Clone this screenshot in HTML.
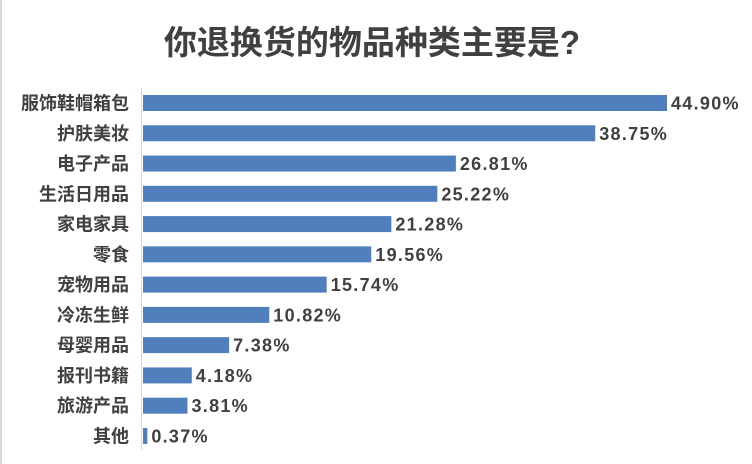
<!DOCTYPE html>
<html><head><meta charset="utf-8"><style>
body{margin:0;background:#fff;}
#c{position:relative;width:752px;height:464px;background:#fff;border-left:2px solid #d9d9d9;box-sizing:border-box;font-family:"Liberation Sans","Noto Sans CJK SC",sans-serif;overflow:hidden}
.t{position:absolute;left:0;width:740px;top:16px;text-align:center;font-size:33px;font-weight:bold;color:#404040}
</style></head><body>
<div id="c">
<div class="t">你退换货的物品种类主要是?</div>
<svg id="s" width="752" height="464" style="position:absolute;left:-2px;top:0"></svg>
</div>
<script>
const categories=["服饰鞋帽箱包","护肤美妆","电子产品","生活日用品","家电家具","零食","宠物用品","冷冻生鲜","母婴用品","报刊书籍","旅游产品","其他"];
const values=[44.90,38.75,26.81,25.22,21.28,19.56,15.74,10.82,7.38,4.18,3.81,0.37];
const labels=["44.90%","38.75%","26.81%","25.22%","21.28%","19.56%","15.74%","10.82%","7.38%","4.18%","3.81%","0.37%"];
const s=document.getElementById('s');const NS="http://www.w3.org/2000/svg";
const x0=143,k=524/44.9,y0=103,step=30.27,bh=16;
const x=v=>x0+v*k, y=i=>y0+i*step;
function mk(t,a){const e=document.createElementNS(NS,t);for(const n in a)e.setAttribute(n,a[n]);s.appendChild(e);return e;}
const ax=mk('line',{x1:141.5,x2:141.5,y1:88,y2:450,stroke:'#d9d9d9','stroke-width':1});


categories.forEach((c,i)=>{
 const r=mk('rect',{x:x0,y:y(i)-bh/2,width:x(values[i])-x0,height:bh,fill:'#4f7fbd'});
 
 
 const t=mk('text',{x:129,y:y(i)+6.5,'text-anchor':'end','font-size':18,'font-weight':'bold',fill:'#404040'});
 t.textContent=c;
 
 
 const v=mk('text',{x:x(values[i])+4,y:y(i)+6.5,'font-size':18,'font-weight':'bold','letter-spacing':1.3,fill:'#404040'});
 v.textContent=labels[i];
 
 
});
</script>
</body></html>
